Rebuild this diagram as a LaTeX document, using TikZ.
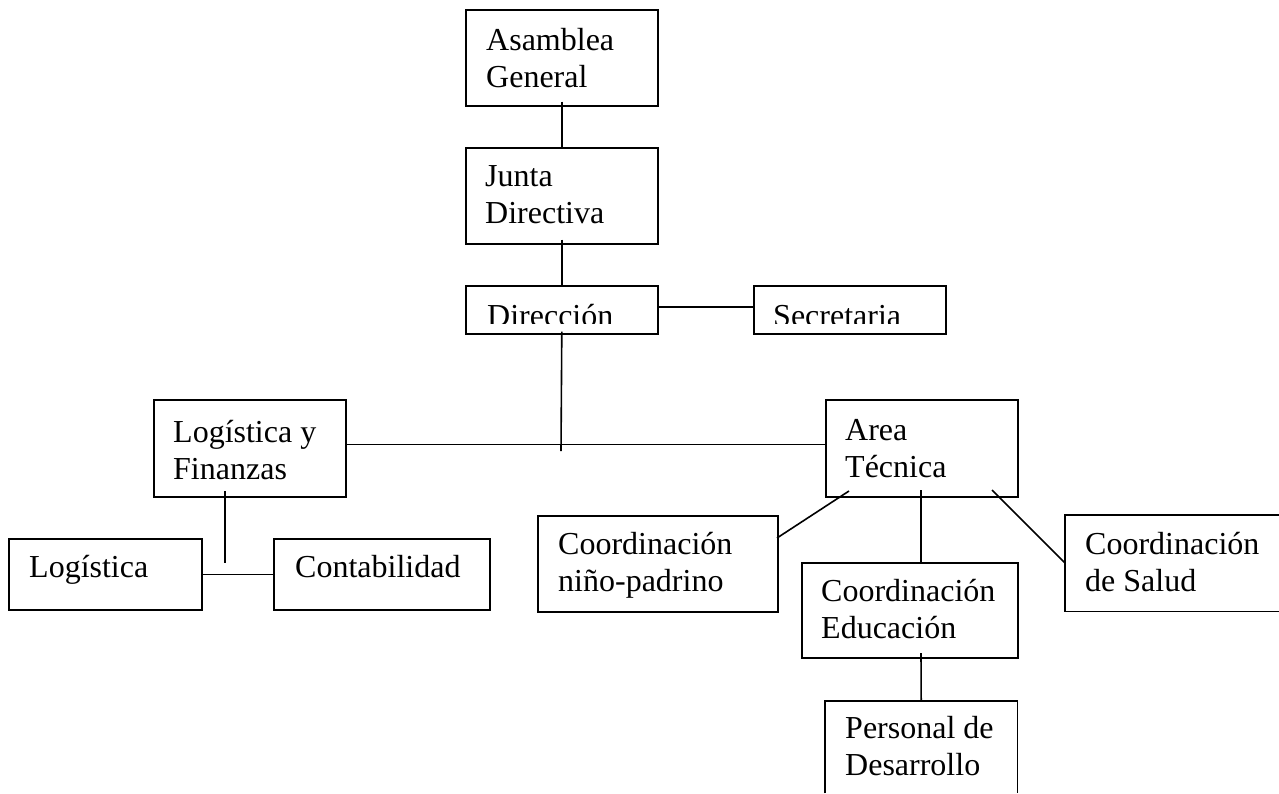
\documentclass[tikz,border=0pt]{standalone}
\usepackage{fontspec}
\setmainfont{Liberation Serif}
\begin{document}
\begin{tikzpicture}[x=1pt,y=-1pt,
  box/.style={draw, line width=1.6pt, inner sep=0pt, anchor=north west},
  openbox/.style={inner sep=0pt, anchor=north west},
  lbl/.style={inner sep=0pt, anchor=base west, font=\fontsize{32}{37}\selectfont},
  conn/.style={line width=1.6pt}]
\useasboundingbox (0,0) rectangle (1279,793);
\newcommand\orgbox[6][box]{\node[#1, minimum width=#5pt, minimum height=#6pt] (#2) at (#3,#4) {};}
\newcommand\twolines[2]{\begin{tabular}[t]{@{}l@{}}#1\\#2\end{tabular}}
% boxes
\orgbox{ag}{465}{9}{192}{96}
\orgbox{jd}{465}{147}{192}{96}
\orgbox{dir}{465}{285}{192}{48}
\orgbox{sec}{753}{285}{192}{48}
\orgbox{lf}{153}{399}{192}{97}
\orgbox{at}{825}{399}{192}{97}
\orgbox{lo}{8}{538}{193}{71}
\orgbox{co}{273}{538}{216}{71}
\orgbox{cn}{537}{515}{240}{96}
\orgbox{ce}{801}{562}{216}{95}
\orgbox[openbox]{cs}{1065}{515}{214}{96}
\orgbox[openbox]{pd}{825}{701}{192}{92}
\draw[line width=1.6pt] (cs.north east) -- (cs.north west) -- (cs.south west) -- (cs.south east);
\draw[line width=1.6pt] (pd.south west) -- (pd.north west) -- (pd.north east) -- (pd.south east);
% texts
\node[lbl] (ag-t) at (486,50) {\twolines{Asamblea}{General}};
\node[lbl] (jd-t) at (485,186) {\twolines{Junta}{Directiva}};
\begin{scope}
  \clip (0,0) rectangle (1279,323);
  \node[lbl] (dir-t) at (487,326) {Dirección};
  \node[lbl] (sec-t) at (773,326) {Secretaria};
\end{scope}
\node[lbl] (lf-t) at (173,442) {\twolines{Logística y}{Finanzas}};
\node[lbl] (at-t) at (845,440) {\twolines{Area}{Técnica}};
\node[lbl] (lo-t) at (29,577) {Logística};
\node[lbl] (co-t) at (295,577) {Contabilidad};
\node[lbl] (cn-t) at (558,554) {\twolines{Coordinación}{niño-padrino}};
\node[lbl] (cs-t) at (1085,554) {\twolines{Coordinación}{de Salud}};
\node[lbl] (ce-t) at (821,601) {\twolines{Coordinación}{Educación}};
\node[lbl] (pd-t) at (845,738) {\twolines{Personal de}{Desarrollo}};
% connector helper points
\coordinate (dirdown) at (561,451);
\coordinate (lfdown) at (225,491);
\coordinate (lfjoin) at (225,563);
\coordinate (atl) at (849,491);
\coordinate (atm) at (921,490);
\coordinate (atr) at (992,490);
\coordinate (cnj) at (777,538);
\coordinate (csj) at (1065,563);
\coordinate (cetop) at (921,562);
\coordinate (cebot) at (921,653);
% connectors
\draw[conn] ([yshift=5pt]ag.south) -- (jd.north);
\draw[conn] ([yshift=5pt]jd.south) -- (dir.north);
\draw[conn] (dir.east) ++(0,-3) -- ([yshift=3pt]sec.west);
\draw[conn] ([yshift=3pt]dir.south) -- (dirdown);
\draw[conn] ([yshift=4pt]lf.east) -- ([yshift=4pt]at.west);
\draw[conn] (lfdown) -- (lfjoin);
\draw[conn] (lo.east) -- (co.west);
\draw[conn] (atl) -- (cnj);
\draw[conn] (atm) -- (cetop);
\draw[conn] (atr) -- (csj);
\draw[conn] (cebot) -- (pd.north);
\end{tikzpicture}
\end{document}
